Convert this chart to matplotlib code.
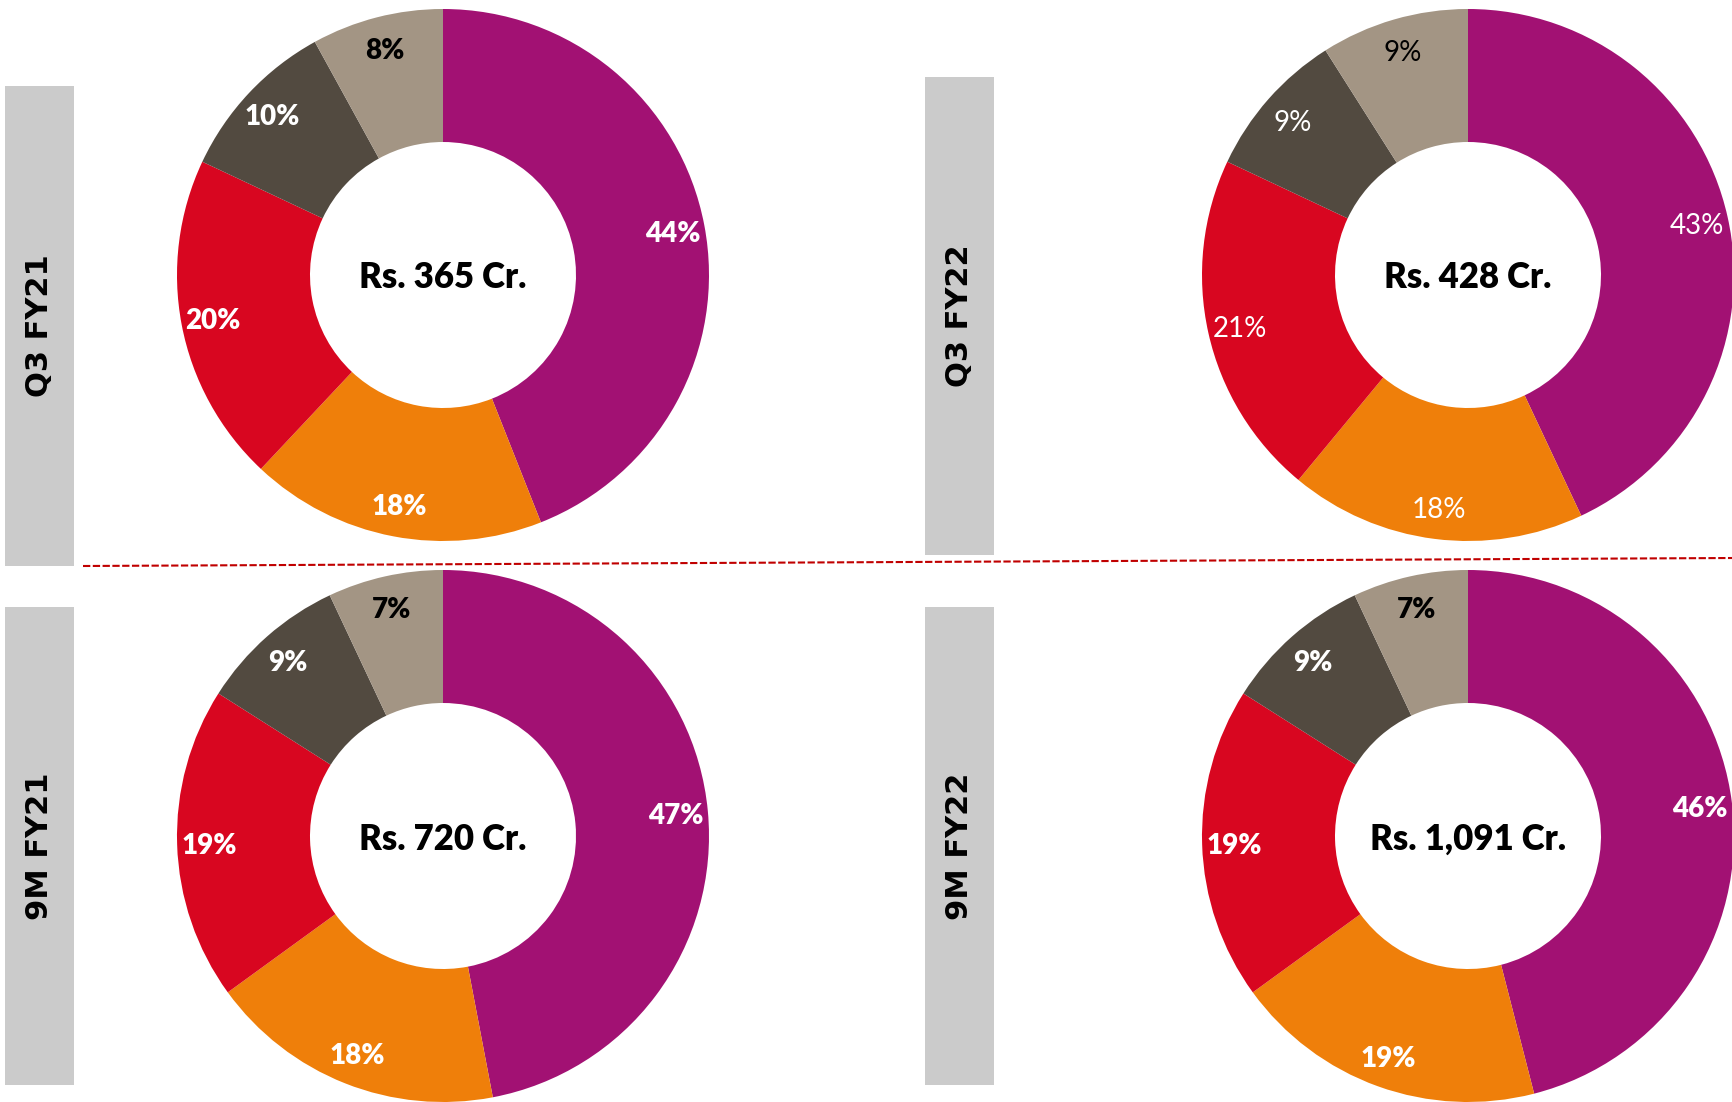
import matplotlib
matplotlib.use('Agg')
import matplotlib.pyplot as plt
from matplotlib.patches import Rectangle
from matplotlib.lines import Line2D

# segment order: clockwise from 12 o'clock
seg_colors = ['#A21173', '#EF7F0A', '#D80620', '#524A40', '#A39584']
label_colors = ['white', 'white', 'white', 'white', 'black']

periods = ['Q3 FY21', 'Q3 FY22', '9M FY21', '9M FY22']
totals = ['Rs. 365 Cr.', 'Rs. 428 Cr.', 'Rs. 720 Cr.', 'Rs. 1,091 Cr.']
q3_fy21 = [44, 18, 20, 10, 8]
q3_fy22 = [43, 18, 21, 9, 9]
m9_fy21 = [47, 18, 19, 9, 7]
m9_fy22 = [46, 19, 19, 9, 7]
shares = [q3_fy21, q3_fy22, m9_fy21, m9_fy22]
bold_pct = [True, False, True, True]

W, H = 1733, 1102
fig = plt.figure(figsize=(W / 100, H / 100), dpi=100)


def frect(x0, y0, x1, y1):
    # pixel box (top-left origin) -> figure fraction rect
    return [x0 / W, 1 - y1 / H, (x1 - x0) / W, (y1 - y0) / H]


R = 266
centers = [(443, 275), (1468, 275), (443, 836), (1468, 836)]
bars = [(5, 86, 74, 566), (925, 77, 994, 555), (5, 607, 74, 1085), (925, 607, 994, 1085)]

for i in range(4):
    cx, cy = centers[i]
    ax = fig.add_axes(frect(cx - R, cy - R, cx + R, cy + R))
    wedges, texts, autotexts = ax.pie(
        shares[i], colors=seg_colors, startangle=90, counterclock=False,
        radius=1, autopct=lambda p: f'{p:.0f}%', pctdistance=0.88,
        wedgeprops=dict(width=0.5, linewidth=0))
    for t, c in zip(autotexts, label_colors):
        t.set_color(c)
        t.set_fontfamily(['Lato', 'DejaVu Sans'])
        t.set_fontsize(20)
        t.set_va('center_baseline')
        t.set_fontweight('heavy' if bold_pct[i] else 'normal')
    ax.text(0, 0, totals[i], ha='center', va='center_baseline', fontsize=25,
            fontweight='heavy', family=['Lato', 'DejaVu Sans'], color='black')
    ax.set_xlim(-1, 1)
    ax.set_ylim(-1, 1)
    ax.set_aspect('equal')
    ax.axis('off')

    # grey side tab with period name
    x0, y0, x1, y1 = bars[i]
    fig.patches.append(Rectangle((x0 / W, 1 - y1 / H), (x1 - x0) / W, (y1 - y0) / H,
                                 transform=fig.transFigure, facecolor='#CBCBCB',
                                 edgecolor='none', zorder=0))
    fig.text((x0 + x1) / 2 / W, 1 - (y0 + y1) / 2 / H, periods[i], rotation=90,
             ha='center', va='center', fontsize=22, fontweight='bold',
             family='DejaVu Sans', color='black')

# red dashed separator
fig.add_artist(Line2D([83 / W, 1.0], [1 - 566 / H, 1 - 558 / H], transform=fig.transFigure,
                      color='#C00000', linewidth=1.5, linestyle=(0, (3.5, 1.2))))

fig.savefig('out.png', dpi=100)
